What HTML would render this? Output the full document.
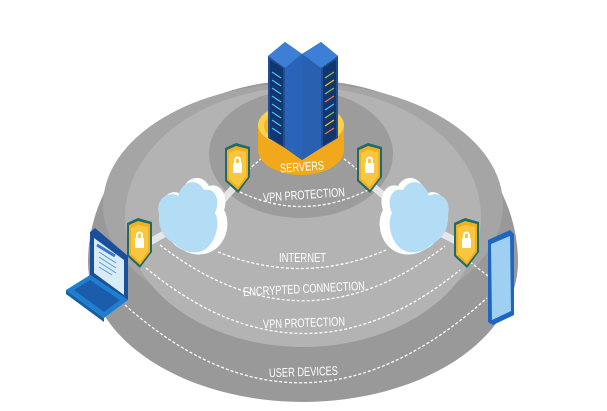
<!DOCTYPE html>
<html><head><meta charset="utf-8"><style>
html,body{margin:0;padding:0;background:#fff;width:607px;height:411px;overflow:hidden}
svg{display:block}
text{font-family:"Liberation Sans",sans-serif;fill:#fff;font-size:12.5px}
</style></head><body>
<svg width="607" height="411" viewBox="0 0 607 411" xmlns="http://www.w3.org/2000/svg">
<defs>
<g id="shield">
<path d="M0,5 L11,0 L25,4 L25,34 L13,50 L0,38 Z" fill="#1e6b6a"/>
<path d="M2,7 L11,3 L23,6 L23,34 L13,47 L2,37 Z" fill="#f3b01e"/>
<path d="M4,10 L11,7 L21,9 L21,33 L13,44 L4,36 Z" fill="#f9c640"/>
<rect x="8" y="20" width="9" height="10" rx="1" fill="#fff"/>
<path d="M10,20 v-3 a2.5,2.5 0 0 1 5,0 v3" stroke="#fff" stroke-width="2" fill="none"/>
</g>
<g id="cloud">
<path d="M6,40 C2,25 14,16 24,22 C28,5 44,0 52,14 C64,10 72,25 67,38 C74,50 70,70 57,78 C48,84 36,84 26,78 C12,72 3,55 6,40 Z" fill="#fff"/>
<path d="M2,42 C-2,27 12,18 21,24 C25,9 40,5 47,18 C58,15 64,28 58,41 C64,52 58,72 47,78 C38,83 26,80 18,72 C6,66 1,55 2,42 Z" fill="#b3dcf5"/>
</g>
</defs>
<!-- dome -->
<path d="M88,262 A215,182 0 0 1 518,262 A215,140 0 0 1 88,262 Z" fill="#999"/>
<ellipse cx="303" cy="205" rx="200" ry="122" fill="#a5a5a5"/>
<ellipse cx="303" cy="217" rx="178" ry="130" fill="#b3b3b3"/>
<ellipse cx="301" cy="154" rx="92" ry="64" fill="#9c9c9c"/>
<!-- dashed arcs -->
<g fill="none" stroke="#fff" stroke-width="1.3" stroke-dasharray="3,2">
<path d="M240,192 Q303,222 368,190"/>
<path d="M218,252 Q303,286 386,250"/>
<path d="M160,245 Q303,356 445,246"/>
<path d="M146,268 Q303,398 460,270"/>
<path d="M125,305 Q303,464 487,298"/>
<path d="M248,170 L262,158 M358,170 L343,158"/>
<path d="M127,262 L118,268 M470,262 L488,276"/>
</g>
<!-- connector beams -->
<g stroke="#ececec" stroke-width="7" stroke-linecap="round" opacity="0.9">
<line x1="212" y1="212" x2="237" y2="184"/>
<line x1="150" y1="242" x2="180" y2="225"/>
<line x1="370" y1="184" x2="395" y2="205"/>
<line x1="425" y1="225" x2="458" y2="242"/>
</g>
<!-- clouds -->
<use href="#cloud" x="157" y="172"/>
<g transform="translate(450,172) scale(-1,1)"><use href="#cloud"/></g>
<!-- shields -->
<use href="#shield" x="225" y="143"/>
<use href="#shield" x="357" y="143"/>
<use href="#shield" x="127" y="218"/>
<use href="#shield" x="454" y="218"/>
<!-- server base -->
<ellipse cx="301" cy="150" rx="43" ry="25" fill="#f1a81a"/>
<rect x="258" y="125" width="86" height="25" fill="#f1a81a"/>
<ellipse cx="301" cy="125" rx="43" ry="22" fill="#fbd04a"/>
<ellipse cx="301" cy="126" rx="37" ry="18" fill="#f5b526"/>
<!-- towers -->
<path d="M268,56 L285,42 L302,54 L302,160 L285,148 L268,138 Z" fill="#1f4e97"/>
<path d="M268,56 L285,42 L302,54 L285,68 Z" fill="#3d7fd6"/>
<path d="M270,60 L283,68 L283,146 L270,138 Z" fill="#12366f"/>
<path d="M285,68 L302,54 L302,160 L285,148 Z" fill="#2a64b8"/>
<path d="M302,54 L321,42 L338,56 L338,138 L321,148 L302,160 Z" fill="#1f4e97"/>
<path d="M302,54 L321,42 L338,56 L321,68 Z" fill="#3d7fd6"/>
<path d="M302,54 L321,68 L321,148 L302,160 Z" fill="#2a60b0"/>
<path d="M323,68 L336,60 L336,138 L323,146 Z" fill="#12366f"/>
<g stroke="#4fc3f7" stroke-width="1.2">
<line x1="272" y1="72" x2="281" y2="78"/><line x1="272" y1="80" x2="281" y2="86"/><line x1="272" y1="88" x2="281" y2="94"/><line x1="272" y1="96" x2="281" y2="102"/><line x1="272" y1="104" x2="281" y2="110"/><line x1="272" y1="112" x2="281" y2="118"/><line x1="272" y1="120" x2="281" y2="126"/><line x1="272" y1="128" x2="281" y2="134"/>
</g>
<g stroke-width="1.2">
<line x1="325" y1="78" x2="334" y2="72" stroke="#8bc34a"/><line x1="325" y1="86" x2="334" y2="80" stroke="#ffc107"/><line x1="325" y1="94" x2="334" y2="88" stroke="#8bc34a"/><line x1="325" y1="102" x2="334" y2="96" stroke="#ff7043"/><line x1="325" y1="110" x2="334" y2="104" stroke="#4fc3f7"/><line x1="325" y1="118" x2="334" y2="112" stroke="#8bc34a"/><line x1="325" y1="126" x2="334" y2="120" stroke="#ffc107"/><line x1="325" y1="134" x2="334" y2="128" stroke="#ff7043"/>
</g>
<text x="280" y="171" textLength="44" lengthAdjust="spacingAndGlyphs" font-size="13" transform="rotate(-4 302 166)">SERVERS</text>
<!-- laptop -->
<path d="M90,232 L95,228 L128,256 L128,300 L90,275 Z" fill="#1a4f9c"/>
<path d="M94,238 L124,260 L124,295 L94,273 Z" fill="#d8ecf8"/>
<path d="M97,245 L115,256" stroke="#3b78c8" stroke-width="3"/>
<g stroke="#5a9ad8" stroke-width="1"><line x1="99" y1="252" x2="116" y2="263"/><line x1="99" y1="257" x2="116" y2="268"/><line x1="99" y1="262" x2="116" y2="273"/><line x1="99" y1="267" x2="112" y2="275"/></g>
<path d="M66,290 L90,275 L128,300 L104,318 Z" fill="#1e7fd0"/>
<path d="M66,290 L104,318 L104,322 L66,294 Z" fill="#155fa3"/>
<path d="M74,290 L90,280 L120,300 L104,312 Z" fill="#1a4f9c" opacity="0.7"/>
<!-- phone -->
<path d="M488,240 L510,230 L514,234 L514,315 L493,325 L488,322 Z" fill="#1f65c2"/>
<path d="M491,244 L510,236 L511,311 L492,320 Z" fill="#9fd0f2"/>
<!-- labels -->
<text x="263" y="199" textLength="82" lengthAdjust="spacingAndGlyphs" transform="rotate(-4 304 195)">VPN PROTECTION</text>
<text x="279" y="262" textLength="47" lengthAdjust="spacingAndGlyphs">INTERNET</text>
<text x="243" y="293" textLength="122" lengthAdjust="spacingAndGlyphs" transform="rotate(-3 303 289)">ENCRYPTED CONNECTION</text>
<text x="263" y="327" textLength="82" lengthAdjust="spacingAndGlyphs" transform="rotate(-2 304 323)">VPN PROTECTION</text>
<text x="269" y="376" textLength="69" lengthAdjust="spacingAndGlyphs" transform="rotate(-2 303 372)">USER DEVICES</text>
</svg>
</body></html>
